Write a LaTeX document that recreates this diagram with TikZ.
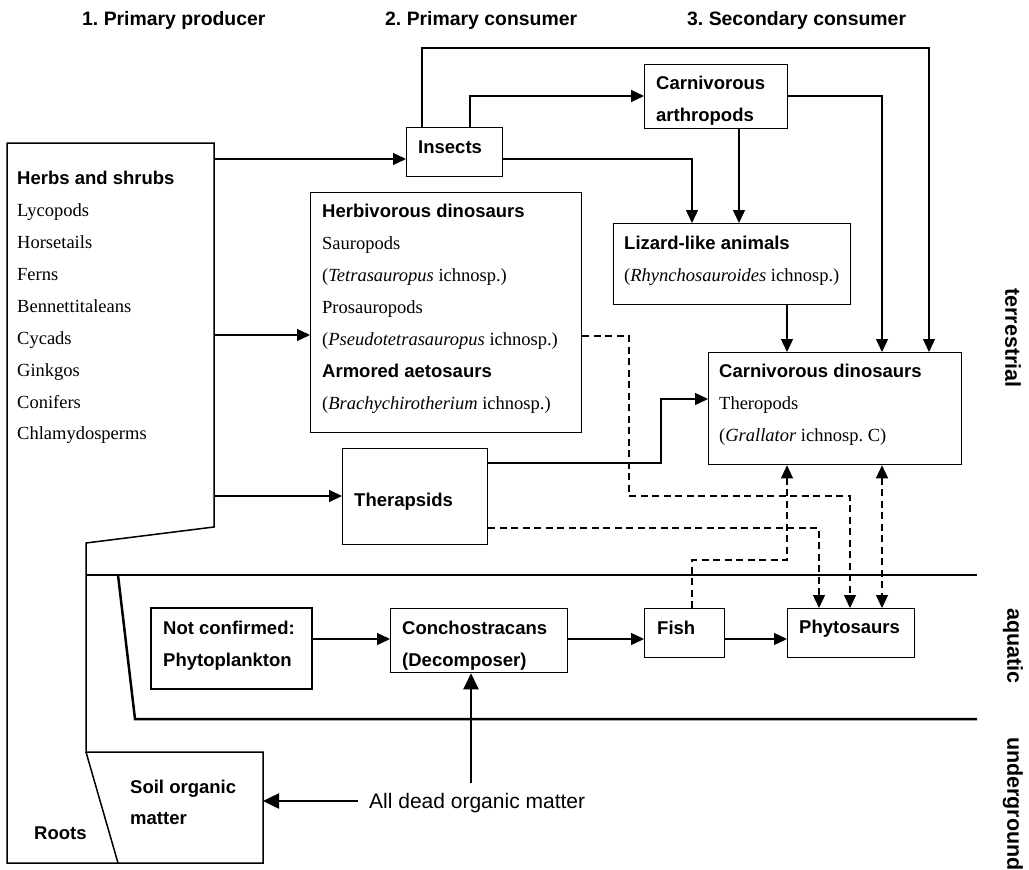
\documentclass[tikz,border=0pt]{standalone}
\usepackage{fontspec}
\setmainfont{Liberation Serif}
\setsansfont{Liberation Sans}
\usetikzlibrary{arrows.meta}
\frenchspacing
\tikzset{
 box/.style={draw, line width=1.3pt, anchor=north west, inner sep=0pt},
 bt/.style={font=\sffamily\bfseries\fontsize{18.5}{22}\selectfont, anchor=base west, inner sep=0pt},
 rt/.style={font=\rmfamily\fontsize{18.5}{22}\selectfont, anchor=base west, inner sep=0pt},
 hd/.style={font=\sffamily\bfseries\fontsize{19.4}{22}\selectfont, anchor=base west, inner sep=0pt},
 zone/.style={font=\sffamily\bfseries\fontsize{21.5}{24}\selectfont, rotate=-90, inner sep=0pt},
 arr/.style={line width=1.3pt, -{Triangle[length=13pt,width=12pt]}},
 darr/.style={arr, dash pattern=on 7pt off 4.5pt},
 ddarr/.style={line width=1.3pt, dash pattern=on 7pt off 4.5pt, {Triangle[length=13pt,width=12pt]}-{Triangle[length=13pt,width=12pt]}},
 bigarr/.style={line width=2.5pt, -{Triangle[length=16pt,width=15pt]}},
 band/.style={line width=2.5pt},
 plant/.style={line width=1.5pt, line join=miter},
}
\begin{document}
\frenchspacing
\begin{tikzpicture}[x=1pt,y=-1pt]
\useasboundingbox (0,0) rectangle (1029,870);

% headers
\node[hd] (h1) at (82,25) {1. Primary producer};
\node[hd] (h2) at (385,25) {2. Primary consumer};
\node[hd] (h3) at (687,25) {3. Secondary consumer};

% zone labels
\node[zone] (zt) at (1013,338) {terrestrial};
\node[zone] (za) at (1013,646) {aquatic};
\node[zone] (zu) at (1013,804) {underground};

% plant polygon
\draw[plant] (7,143) -- (214,143) -- (214,527) -- (86,543) -- (86,752) -- (263,752) -- (263,863) -- (7,863) -- cycle;
\draw[plant] (86,752) -- (118,863);

% bands
\draw[band] (86,575) -- (977,575);
\draw[band] (118,575) -- (135,719) -- (977,719);

% plant texts
\node[bt] (herbs) at (17,184) {Herbs and shrubs};
\node[rt] (ly) at (17,216) {Lycopods};
\node[rt] (ho) at (17,248) {Horsetails};
\node[rt] (fe) at (17,280) {Ferns};
\node[rt] (be) at (17,312) {Bennettitaleans};
\node[rt] (cy) at (17,344) {Cycads};
\node[rt] (gi) at (17,376) {Ginkgos};
\node[rt] (co) at (17,408) {Conifers};
\node[rt] (ch) at (17,439) {Chlamydosperms};
\node[bt] (soil1) at (130,793) {Soil organic};
\node[bt] (soil2) at (130,824) {matter};
\node[bt] (roots) at (34,839) {Roots};

% boxes
\node[box, minimum width=96pt, minimum height=49pt] (insects) at (406,127) {};
\node[box, minimum width=143pt, minimum height=64pt] (arthro) at (644,64) {};
\node[box, minimum width=271pt, minimum height=240pt] (herb) at (310,192) {};
\node[box, minimum width=237pt, minimum height=81pt] (lizard) at (613,223) {};
\node[box, minimum width=253pt, minimum height=112pt] (carndino) at (708,352) {};
\node[box, minimum width=145pt, minimum height=96pt] (thera) at (342,448) {};
\node[box, line width=2.2pt, minimum width=161pt, minimum height=81pt] (nc) at (150,607) {};
\node[box, minimum width=177pt, minimum height=64pt] (conch) at (390,608) {};
\node[box, minimum width=80pt, minimum height=49pt] (fish) at (644,608) {};
\node[box, minimum width=127pt, minimum height=49pt] (phyto) at (787,608) {};

% box texts
\node[bt] (tins) at (418,153) {Insects};
\node[bt] (tar1) at (656,89) {Carnivorous};
\node[bt] (tar2) at (656,121) {arthropods};
\node[bt] (thb1) at (322,217) {Herbivorous dinosaurs};
\node[rt] (thb2) at (322,249) {Sauropods};
\node[rt] (thb3) at (322,281) {(\textit{Tetrasauropus} ichnosp.)};
\node[rt] (thb4) at (322,313) {Prosauropods};
\node[rt] (thb5) at (322,345) {(\textit{Pseudotetrasauropus} ichnosp.)};
\node[bt] (thb6) at (322,377) {Armored aetosaurs};
\node[rt] (thb7) at (322,409) {(\textit{Brachychirotherium} ichnosp.)};
\node[bt] (tli1) at (624,249) {Lizard-like animals};
\node[rt] (tli2) at (624,281) {(\textit{Rhynchosauroides} ichnosp.)};
\node[bt] (tcd1) at (719,377) {Carnivorous dinosaurs};
\node[rt] (tcd2) at (719,409) {Theropods};
\node[rt] (tcd3) at (719,441) {(\textit{Grallator} ichnosp. C)};
\node[bt] (tth) at (354,506) {Therapsids};
\node[bt] (tnc1) at (163,634) {Not confirmed:};
\node[bt] (tnc2) at (163,666) {Phytoplankton};
\node[bt] (tco1) at (402,634) {Conchostracans};
\node[bt] (tco2) at (402,666) {(Decomposer)};
\node[bt] (tfi) at (657,634) {Fish};
\node[bt] (tph) at (799,633) {Phytosaurs};
\node[font=\sffamily\fontsize{21}{24}\selectfont, anchor=base west, inner sep=0pt] (dead) at (369,808) {All dead organic matter};

% coordinates
\coordinate (pA) at (214,159);
\coordinate (pB) at (214,335);
\coordinate (pC) at (214,496);
\coordinate (t1) at (929,48);
\coordinate (t2) at (470,96);
\coordinate (t3) at (882,96);
\coordinate (t4) at (692,159);
\coordinate (t5) at (739,200);
\coordinate (t6) at (787,330);
\coordinate (t7) at (661,463);
\coordinate (t8) at (661,399);
\coordinate (t9) at (629,336);
\coordinate (t10) at (629,496);
\coordinate (t11) at (850,496);
\coordinate (t12) at (819,528);
\coordinate (t13) at (692,560);
\coordinate (t14) at (787,560);
\coordinate (t15) at (882,540);
\coordinate (row) at (600,639);
\coordinate (t17) at (471,783);
\coordinate (t18) at (358,801);
\coordinate (soilE) at (263,801);

% solid connectors
\draw[arr] (pA) -- (pA -| insects.west);
\draw[arr] (pB) -- (pB -| herb.west);
\draw[arr] (pC) -- (pC -| thera.west);
\draw[arr] ([xshift=16pt]insects.north west) |- (t1) -- (t1 |- carndino.north);
\draw[arr] (t2 |- insects.north) -- (t2) -- (t2 -| arthro.west);
\draw[arr] (t3 -| arthro.east) -- (t3) -- (t3 |- carndino.north);
\draw[arr] (t4 -| insects.east) -- (t4) -- (t4 |- lizard.north);
\draw[arr] (t5 |- arthro.south) -- (t5 |- lizard.north);
\draw[arr] (t6 |- lizard.south) -- (t6 |- carndino.north);
\draw[arr] (t7 -| thera.east) -- (t7) -- (t8) -- (t8 -| carndino.west);

% dashed connectors
\draw[darr] (t9 -| herb.east) -- (t9) -- (t10) -- (t11) -- (t11 |- phyto.north);
\draw[darr] (t12 -| thera.east) -- (t12) -- (t12 |- phyto.north);
\draw[darr] (t13 |- fish.north) -- (t13) -- (t14) -- (t14 |- carndino.south);
\draw[ddarr] (t15 |- carndino.south) -- (t15 |- phyto.north);

% aquatic row
\draw[arr] (row -| nc.east) -- (row -| conch.west);
\draw[arr] (row -| conch.east) -- (row -| fish.west);
\draw[arr] (row -| fish.east) -- (row -| phyto.west);

% dead organic matter
\draw[bigarr] (t17) -- (t17 |- conch.south);
\draw[bigarr] (t18) -- (soilE);
\end{tikzpicture}
\end{document}
